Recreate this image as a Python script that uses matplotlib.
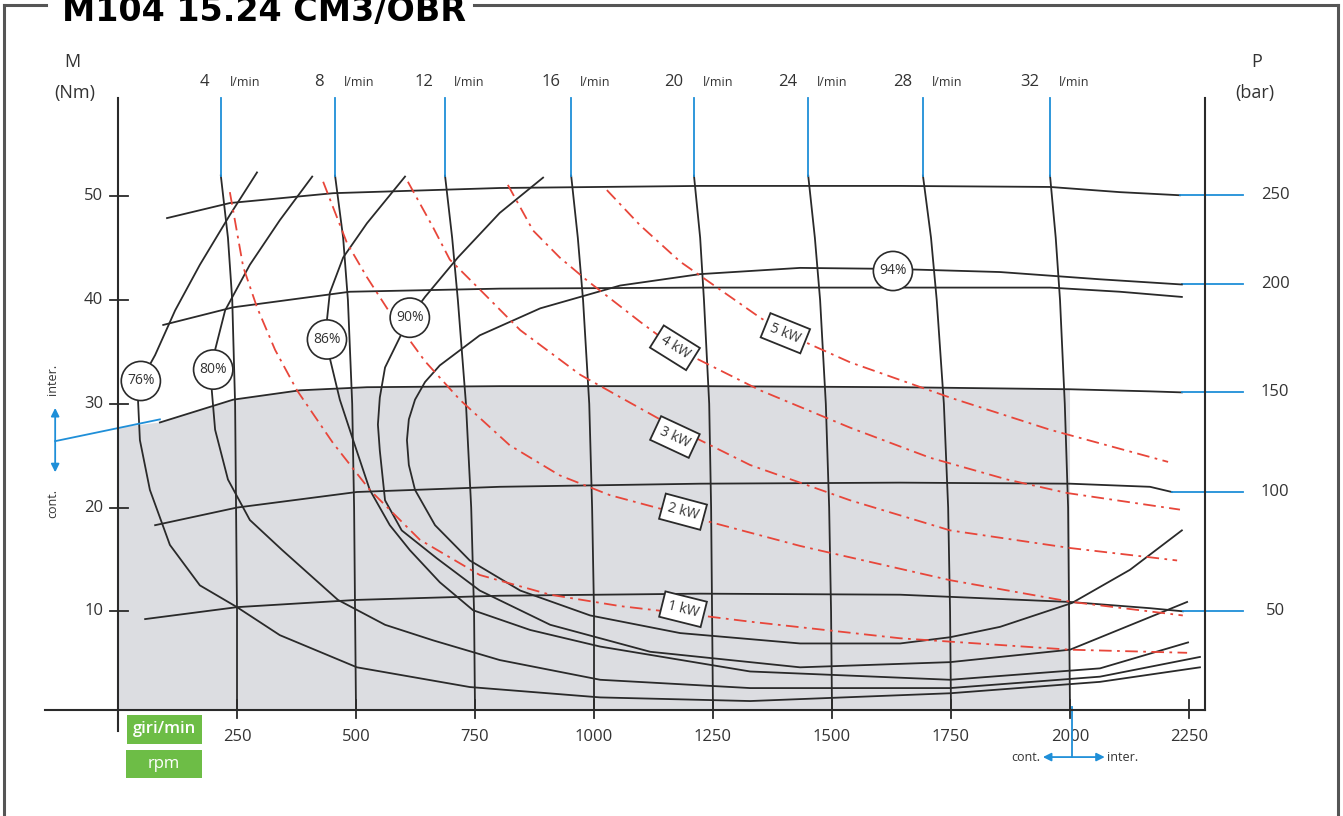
import matplotlib.pyplot as plt
from matplotlib.patches import Rectangle, Polygon

plt.rcParams['font.family'] = ['Open Sans', 'DejaVu Sans']

# --- dati (giri/min, Nm) ---
x_ticks = [250, 500, 750, 1000, 1250, 1500, 1750, 2000, 2250]
y_ticks = [10, 20, 30, 40, 50]

flow_lpm = [4, 8, 12, 16, 20, 24, 28, 32]
flow_nm = [52, 46, 40, 30, 20, 10, 0.5]
flow_rpm = [
    [216, 231, 240, 246, 248, 250, 250],
    [456, 473, 483, 492, 496, 498, 500],
    [687, 702, 714, 731, 742, 748, 750],
    [952, 966, 977, 990, 996, 1000, 1000],
    [1210, 1223, 1231, 1242, 1246, 1248, 1250],
    [1450, 1464, 1475, 1487, 1494, 1498, 1500],
    [1691, 1708, 1720, 1735, 1744, 1748, 1750],
    [1958, 1970, 1979, 1989, 1996, 1998, 2000],
]

pressure_bar = [250, 200, 150, 100, 50]
pressure_rpm = [
    [103, 235, 452, 802, 1223, 1643, 1958, 2105, 2231],
    [95, 242, 487, 802, 1223, 1643, 1958, 2105, 2235],
    [88, 242, 382, 523, 802, 1223, 1643, 2000, 2168, 2235],
    [78, 250, 502, 802, 1223, 1643, 2000, 2168, 2214],
    [57, 250, 502, 802, 1223, 1643, 2000, 2168, 2237],
]
pressure_nm = [
    [47.9, 49.35, 50.3, 50.8, 51.0, 51.0, 50.9, 50.4, 50.1],
    [37.6, 39.3, 40.8, 41.1, 41.2, 41.2, 41.2, 40.8, 40.3],
    [28.2, 30.4, 31.3, 31.6, 31.7, 31.7, 31.6, 31.4, 31.2, 31.1],
    [18.3, 20.0, 21.5, 22.0, 22.3, 22.4, 22.3, 22.0, 21.5],
    [9.25, 10.4, 11.1, 11.5, 11.7, 11.6, 10.9, 10.3, 10.0],
]
# punto da cui parte la linea blu verso l'etichetta di destra
pressure_tag_start = [(2231, 50.1), (2235, 41.5), (2235, 31.1), (2214, 21.5), (2237, 10.0)]
cont_edge_nm = 27.7   # bordo zona grigia su asse M
cont_limit_rpm = 2000

eff_labels = ['76%', '80%', '86%', '90%', '94%']
eff_bubble = [(48, 32.2), (200, 33.3), (439, 36.2), (613, 38.3), (1628, 42.8)]
eff_rpm = [
    [292, 235, 172, 120, 78, 48, 42, 46, 67, 109, 172, 250, 340, 502, 739, 1013, 1328, 1748, 2063, 2273],
    [408, 340, 277, 225, 204, 200, 197, 204, 231, 277, 345, 462, 561, 662, 802, 1013, 1328, 1748, 2063, 2273],
    [603, 523, 473, 445, 439, 439, 445, 466, 494, 529, 571, 613, 676, 746, 866, 1013, 1328, 1748, 2063, 2248],
    [893, 802, 714, 645, 613, 592, 561, 550, 546, 550, 561, 596, 670, 760, 908, 1118, 1433, 1748, 2000, 2246],
    [2235, 2063, 1853, 1628, 1433, 1223, 1055, 887, 760, 676, 645, 624, 611, 607, 611, 624, 666, 739, 845,
     992, 1181, 1433, 1643, 1748, 1853, 2004, 2126, 2235],
]
eff_nm = [
    [52.3, 48.2, 43.4, 39.0, 34.7, 32.2, 30.4, 26.5, 21.7, 16.4, 12.5, 10.4, 7.7, 4.6, 2.7, 1.7, 1.35, 2.1, 3.2, 4.6],
    [51.9, 47.7, 43.4, 39.0, 35.2, 33.3, 31.3, 27.5, 22.7, 18.8, 15.9, 11.1, 8.7, 7.2, 5.3, 3.4, 2.6, 2.6, 3.7, 5.6],
    [51.9, 47.4, 44.1, 40.7, 38.1, 36.2, 34.4, 30.4, 26.5, 21.7, 18.3, 15.9, 12.8, 10.1, 8.2, 6.6, 4.2, 3.4, 4.5, 7.0],
    [51.8, 48.4, 44.1, 40.3, 38.3, 36.4, 33.5, 30.6, 28.0, 25.5, 20.7, 17.8, 15.1, 12.0, 8.7, 6.1, 4.6, 5.1, 6.3,
     10.9],
    [41.5, 42.0, 42.7, 43.0, 43.1, 42.5, 41.4, 39.2, 36.6, 33.7, 32.1, 30.4, 28.5, 26.5, 24.1, 21.7, 18.3, 14.9,
     12.0, 9.6, 7.9, 6.9, 6.9, 7.5, 8.5, 10.8, 14.0, 17.8],
]

kw_labels = ['1 kW', '2 kW', '3 kW', '4 kW', '5 kW']
kw_label_pos = [(1187, 10.2), (1187, 19.6), (1170, 26.8), (1170, 35.4), (1402, 36.8)]
kw_label_rot = [-14, -15, -25, -32, -22]
kw_rpm = [
    [235, 263, 292, 330, 376, 452, 529, 634, 760, 908, 1055, 1187, 1328, 1643, 2000, 2246],
    [431, 481, 523, 578, 645, 718, 823, 928, 1033, 1187, 1433, 1748, 2004, 2237],
    [609, 662, 697, 754, 845, 971, 1076, 1170, 1328, 1538, 1748, 2000, 2225],
    [819, 872, 928, 985, 1097, 1170, 1349, 1538, 1706, 1868, 1994, 2231],
    [1027, 1097, 1181, 1265, 1349, 1402, 1538, 1748, 1958, 2206],
]
kw_nm = [
    [50.4, 43.2, 39.3, 35.2, 31.3, 26.2, 21.7, 16.9, 13.5, 11.6, 10.5, 9.8, 9.0, 7.4, 6.3, 6.0],
    [51.4, 45.5, 42.2, 38.3, 34.1, 30.4, 26.0, 23.1, 21.2, 19.3, 16.3, 13.0, 10.9, 9.6],
    [51.4, 47.0, 43.9, 41.3, 37.1, 32.8, 30.1, 27.7, 24.1, 20.7, 17.8, 16.1, 14.9],
    [51.1, 46.7, 44.1, 41.9, 37.9, 35.4, 31.3, 27.7, 24.8, 22.7, 21.4, 19.8],
    [50.6, 47.2, 43.7, 41.0, 38.3, 36.8, 34.0, 30.6, 27.5, 24.4],
]

# --- stile ---
INK = '#2a2a2a'
TXT = '#333333'
RED = '#e8463a'
BLUE = '#1f8fd8'
SHADE = '#dcdde1'
GREEN = '#6dbd46'

W, H = 1343, 816
fig = plt.figure(figsize=(W / 100, H / 100), dpi=100)
ax = fig.add_axes([0, 0, 1, 1])
ax.set_xlim(-247.9, 2573.5)
ax.set_ylim(-9.73, 68.92)
ax.axis('off')

x_right = 2284
y_top = 59.5
y_axis = 0.5
tag_x = 2363

# zona grigia (servizio continuo)
p150_r = pressure_rpm[2]
p150_n = pressure_nm[2]
shade = [(0, y_axis), (0, cont_edge_nm)]
shade += [(r, n) for r, n in zip(p150_r, p150_n) if r <= cont_limit_rpm]
shade += [(cont_limit_rpm, y_axis)]
ax.add_patch(Polygon(shade, closed=True, facecolor=SHADE, edgecolor='none', zorder=1))

# linee di portata
for q, rr in zip(flow_lpm, flow_rpm):
    ax.plot(rr, flow_nm, color=INK, lw=1.3, zorder=3)
    ax.plot([rr[0], rr[0]], [flow_nm[0], y_top], color=BLUE, lw=1.3, zorder=3)
    ax.annotate(str(q), (rr[0], 61.0), xytext=(-8, 0), textcoords='offset points',
                ha='right', va='center', fontsize=12, color=TXT)
    ax.annotate('l/min', (rr[0], 61.0), xytext=(6.5, 0), textcoords='offset points',
                ha='left', va='center', fontsize=9, color=TXT)

# linee di pressione
for p, rr, nn, st in zip(pressure_bar, pressure_rpm, pressure_nm, pressure_tag_start):
    ax.plot(rr, nn, color=INK, lw=1.3, zorder=3)
    ax.plot([st[0], tag_x], [st[1], st[1]], color=BLUE, lw=1.3, zorder=3)
    ax.text(tag_x + 68, st[1], str(p), ha='center', va='center', fontsize=12, color=TXT)

# curve di rendimento
for lab, rr, nn, b in zip(eff_labels, eff_rpm, eff_nm, eff_bubble):
    ax.plot(rr, nn, color=INK, lw=1.3, zorder=3, solid_joinstyle='round')
    ax.text(b[0], b[1], lab, ha='center', va='center', fontsize=10, color=TXT, zorder=7,
            bbox=dict(boxstyle='circle,pad=0.42', fc='white', ec=INK, lw=1.2))

# curve di potenza
for lab, rr, nn, pos, rot in zip(kw_labels, kw_rpm, kw_nm, kw_label_pos, kw_label_rot):
    ax.plot(rr, nn, color=RED, lw=1.3, ls=(0, (7, 3, 1.5, 3)), zorder=4)
    ax.text(pos[0], pos[1], lab, ha='center', va='center', rotation=rot, fontsize=10,
            color=TXT, zorder=7,
            bbox=dict(boxstyle='square,pad=0.4', fc='white', ec=INK, lw=1.3))

# assi
ax.plot([0, 0], [-1.5, y_top], color=INK, lw=1.5, zorder=5)
ax.plot([-153, x_right], [y_axis, y_axis], color=INK, lw=1.5, zorder=5)
ax.plot([x_right, x_right], [y_axis, y_top], color=INK, lw=1.5, zorder=5)
for v in y_ticks:
    ax.plot([-17, 21], [v, v], color=INK, lw=1.3, zorder=5)
    ax.text(-31, v, str(v), ha='right', va='center', fontsize=12, color=TXT)
for t in x_ticks:
    ax.plot([t, t], [-0.3, 1.45], color=INK, lw=1.3, zorder=5)
    ax.text(t, -2.1, str(t), ha='center', va='center', fontsize=12, color=TXT)

ax.text(-97, 62.9, 'M', ha='center', va='center', fontsize=13, color=TXT)
ax.text(-90, 60.0, '(Nm)', ha='center', va='center', fontsize=13, color=TXT)
ax.text(2391, 62.9, 'P', ha='center', va='center', fontsize=13, color=TXT)
ax.text(2389, 60.0, '(bar)', ha='center', va='center', fontsize=13, color=TXT)

# riquadri verdi
ax.add_patch(Rectangle((19, -2.75), 157, 2.75, fc=GREEN, ec='none', zorder=6))
ax.add_patch(Rectangle((17, -6.07), 159, 2.7, fc=GREEN, ec='none', zorder=6))
ax.text(97, -1.35, 'giri/min', ha='center', va='center', fontsize=12, color='white',
        fontweight='semibold', zorder=7)
ax.text(97, -4.72, 'rpm', ha='center', va='center', fontsize=12, color='white', zorder=7)

# cont. / inter. a sinistra
ax.plot([-132, 88], [26.4, 28.5], color=BLUE, lw=1.3, zorder=4)
ax.annotate('', xy=(-132, 29.6), xytext=(-132, 23.4),
            arrowprops=dict(arrowstyle='<|-|>', color=BLUE, lw=1.3, mutation_scale=12,
                            shrinkA=0, shrinkB=0))
ax.text(-137, 32.3, 'inter.', rotation=90, ha='center', va='center', fontsize=9, color=TXT)
ax.text(-137, 20.4, 'cont.', rotation=90, ha='center', va='center', fontsize=9, color=TXT)

# cont. / inter. in basso
ax.plot([2004, 2004], [0.8, -4.05], color=BLUE, lw=1.3, zorder=4)
ax.annotate('', xy=(1943, -4.05), xytext=(2073, -4.05),
            arrowprops=dict(arrowstyle='<|-|>', color=BLUE, lw=1.3, mutation_scale=12,
                            shrinkA=0, shrinkB=0))
ax.text(1938, -4.05, 'cont.', ha='right', va='center', fontsize=9, color=TXT)
ax.text(2078, -4.05, 'inter.', ha='left', va='center', fontsize=9, color=TXT)

# cornice e titolo
def px(x, y):
    return x / W, 1 - y / H

frame = dict(color='#555555', lw=2.2, transform=fig.transFigure, clip_on=False)
for seg in [[(4, 5), (46, 5)], [(474, 5), (1338, 5)], [(4, 5), (4, 816)], [(1338, 5), (1338, 816)]]:
    (xa, ya), (xb, yb) = px(*seg[0]), px(*seg[1])
    fig.add_artist(plt.Line2D([xa, xb], [ya, yb], **frame))
tx, ty = px(62, 21)
fig.text(tx, ty, 'M104 15.24 CM3/OBR', family='DejaVu Sans', fontweight='bold',
         fontsize=24, ha='left', va='baseline', color='black')

fig.savefig('out.png', dpi=100)
